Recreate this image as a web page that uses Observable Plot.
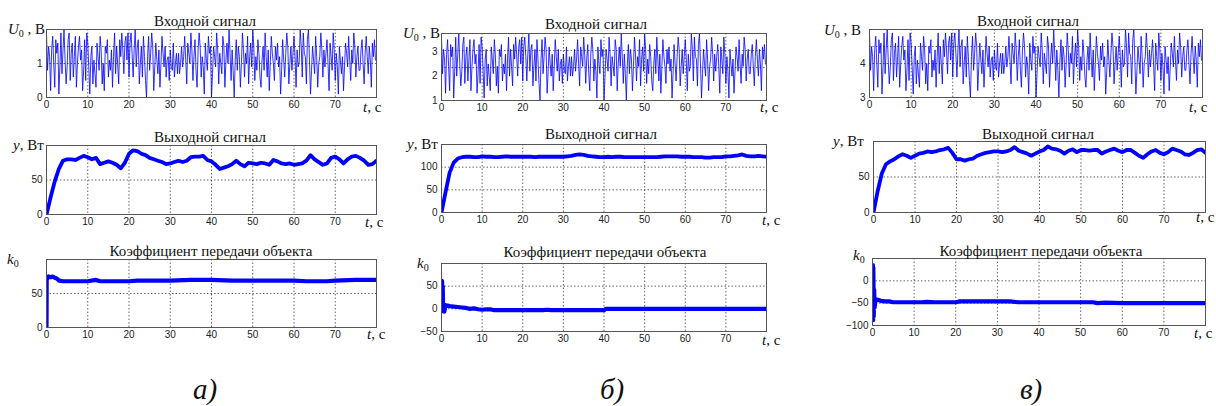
<!DOCTYPE html>
<html><head><meta charset="utf-8">
<script src="https://cdn.jsdelivr.net/npm/d3@7"></script>
<script src="https://cdn.jsdelivr.net/npm/@observablehq/plot@0.6"></script>
<style>
body{margin:0;background:#fff;}
#wrap{position:relative;width:1216px;height:406px;overflow:hidden;background:#fff;}
#wrap svg{position:absolute;}
#wrap svg.lbl text{font-family:"Liberation Serif","Times New Roman",serif;}
</style></head><body><div id="wrap"></div>
<script>
// ---------- data ----------
const tTicks = [0,10,20,30,40,50,60,70];
const inputStep = 0.25;

const inputA = [1.9,0.8,1.5,1.2,0.2,1.4,1.8,1.0,0.3,1.7,1.3,1.6,0.1,0.9,1.9,0.7,
1.4,2.0,1.1,0.4,0.9,1.7,1.9,0.5,1.3,1.6,0.6,1.2,1.8,0.3,1.0,1.5,
1.8,1.1,1.4,0.2,0.8,1.7,0.5,1.9,1.6,0.9,0.1,1.2,1.5,0.4,1.1,0.7,
0.3,1.6,1.2,0.8,1.8,1.4,0.4,1.0,0.2,1.5,1.3,1.7,0.6,1.1,0.8,1.4,
0.3,1.2,1.9,0.7,1.5,1.0,0.4,1.7,1.2,1.9,1.4,0.7,1.6,1.8,1.1,1.9,
0.6,1.6,1.9,1.3,0.6,1.4,2.0,0.9,1.5,1.7,0.4,1.0,1.5,0.6,1.8,1.2,
0.5,0.0,1.2,1.8,0.8,1.3,1.9,1.5,0.2,0.9,1.6,1.1,0.7,1.4,0.3,1.0,
1.8,1.3,0.9,1.5,0.6,1.1,1.2,0.5,1.4,0.9,0.8,1.6,0.6,1.0,1.3,0.7,
1.3,0.7,1.0,1.5,0.9,1.2,1.8,1.1,0.4,1.6,1.3,1.0,1.9,1.4,0.5,1.2,
1.7,0.8,0.3,1.4,1.9,1.5,0.6,1.2,0.9,0.1,1.6,1.1,0.8,1.8,1.3,1.5,
0.0,0.7,1.5,1.2,0.9,1.9,1.4,0.4,1.3,1.0,0.7,1.8,1.5,0.3,1.1,1.6,
1.0,2.0,1.3,0.5,1.4,0.8,0.0,1.1,1.7,0.8,1.5,1.2,0.3,1.0,1.9,1.4,
0.6,1.3,1.0,1.8,0.4,1.2,1.6,0.9,2.0,1.5,0.5,1.2,0.8,1.7,1.3,0.6,
0.3,1.1,1.5,0.8,1.9,1.2,0.6,1.4,0.2,1.0,1.8,1.3,1.0,0.5,1.5,1.1,
1.6,0.9,1.2,0.1,0.8,1.7,1.1,0.6,1.3,1.9,1.5,0.4,1.0,1.5,0.8,1.3,
1.8,1.2,0.3,1.4,0.9,1.0,2.0,1.5,0.6,1.9,1.3,1.2,0.4,1.7,2.0,1.1,
0.1,0.8,1.5,1.1,0.7,1.8,1.2,0.3,1.0,1.2,1.9,1.4,0.6,1.4,0.9,1.3,
1.7,1.0,0.2,1.6,1.2,0.8,1.9,1.4,0.5,1.3,0.9,0.1,1.5,1.1,0.7,1.2,
0.2,0.9,1.6,1.3,0.9,1.8,1.1,0.5,1.4,1.0,1.9,1.5,0.6,1.2,1.5,0.8,
0.8,1.4,1.7,1.0,0.4,1.3,1.8,1.2,0.7,1.5,1.1,0.3,1.6,1.2,1.7,1.1];

const inputB = [3.6,2.1,3.1,2.7,1.3,2.9,3.5,2.4,1.4,3.3,2.8,3.2,1.1,2.2,3.6,2.0,
2.9,3.75,2.5,1.6,2.2,3.3,3.6,1.7,2.8,3.2,1.8,2.7,3.5,1.4,2.4,3.1,
3.5,2.5,2.9,1.3,2.1,3.3,1.7,3.6,3.2,2.2,1.1,2.7,3.1,1.6,2.5,2.0,
1.4,3.2,2.7,2.1,3.5,2.9,1.6,2.4,1.3,3.1,2.8,3.3,1.8,2.5,2.1,2.9,
1.4,2.7,3.6,2.0,3.1,2.4,1.6,3.3,2.7,3.6,2.9,2.0,3.2,3.5,2.5,3.6,
1.8,3.2,3.6,2.8,1.8,2.9,3.75,2.2,3.1,3.3,1.6,2.4,3.1,1.8,3.5,2.7,
1.7,1.0,2.7,3.5,2.1,2.8,3.6,3.1,1.3,2.2,3.2,2.5,2.0,2.9,1.4,2.4,
3.5,2.8,2.2,3.1,1.8,2.5,2.7,1.7,2.9,2.2,2.1,3.2,1.8,2.4,2.8,2.0,
2.8,2.0,2.4,3.1,2.2,2.7,3.5,2.5,1.6,3.2,2.8,2.4,3.6,2.9,1.7,2.7,
3.3,2.1,1.4,2.9,3.6,3.1,1.8,2.7,2.2,1.1,3.2,2.5,2.1,3.5,2.8,3.1,
1.0,2.0,3.1,2.7,2.2,3.6,2.9,1.6,2.8,2.4,2.0,3.5,3.1,1.4,2.5,3.2,
2.4,3.75,2.8,1.7,2.9,2.1,1.0,2.5,3.3,2.1,3.1,2.7,1.4,2.4,3.6,2.9,
1.8,2.8,2.4,3.5,1.6,2.7,3.2,2.2,3.75,3.1,1.7,2.7,2.1,3.3,2.8,1.8,
1.4,2.5,3.1,2.1,3.6,2.7,1.8,2.9,1.3,2.4,3.5,2.8,2.4,1.7,3.1,2.5,
3.2,2.2,2.7,1.1,2.1,3.3,2.5,1.8,2.8,3.6,3.1,1.6,2.4,3.1,2.1,2.8,
3.5,2.7,1.4,2.9,2.2,2.4,3.75,3.1,1.8,3.6,2.8,2.7,1.6,3.3,3.75,2.5,
1.1,2.1,3.1,2.5,2.0,3.5,2.7,1.4,2.4,2.7,3.6,2.9,1.8,2.9,2.2,2.8,
3.3,2.4,1.3,3.2,2.7,2.1,3.6,2.9,1.7,2.8,2.2,1.1,3.1,2.5,2.0,2.7,
1.3,2.2,3.2,2.8,2.2,3.5,2.5,1.7,2.9,2.4,3.6,3.1,1.8,2.7,3.1,2.1,
2.1,2.9,3.3,2.4,1.6,2.8,3.5,2.7,2.0,3.1,2.5,1.4,3.2,2.7,3.3,2.5];

const inputC = [4.9,3.8,4.5,4.2,3.2,4.4,4.8,4.0,3.3,4.7,4.3,4.6,3.1,3.9,4.9,3.7,
4.4,5.0,4.1,3.4,3.9,4.7,4.9,3.5,4.3,4.6,3.6,4.2,4.8,3.3,4.0,4.5,
4.8,4.1,4.4,3.2,3.8,4.7,3.5,4.9,4.6,3.9,3.1,4.2,4.5,3.4,4.1,3.7,
3.3,4.6,4.2,3.8,4.8,4.4,3.4,4.0,3.2,4.5,4.3,4.7,3.6,4.1,3.8,4.4,
3.3,4.2,4.9,3.7,4.5,4.0,3.4,4.7,4.2,4.9,4.4,3.7,4.6,4.8,4.1,4.9,
3.6,4.6,4.9,4.3,3.6,4.4,5.0,3.9,4.5,4.7,3.4,4.0,4.5,3.6,4.8,4.2,
3.5,3.0,4.2,4.8,3.8,4.3,4.9,4.5,3.2,3.9,4.6,4.1,3.7,4.4,3.3,4.0,
4.8,4.3,3.9,4.5,3.6,4.1,4.2,3.5,4.4,3.9,3.8,4.6,3.6,4.0,4.3,3.7,
4.3,3.7,4.0,4.5,3.9,4.2,4.8,4.1,3.4,4.6,4.3,4.0,4.9,4.4,3.5,4.2,
4.7,3.8,3.3,4.4,4.9,4.5,3.6,4.2,3.9,3.1,4.6,4.1,3.8,4.8,4.3,4.5,
3.0,3.7,4.5,4.2,3.9,4.9,4.4,3.4,4.3,4.0,3.7,4.8,4.5,3.3,4.1,4.6,
4.0,5.0,4.3,3.5,4.4,3.8,3.0,4.1,4.7,3.8,4.5,4.2,3.3,4.0,4.9,4.4,
3.6,4.3,4.0,4.8,3.4,4.2,4.6,3.9,5.0,4.5,3.5,4.2,3.8,4.7,4.3,3.6,
3.3,4.1,4.5,3.8,4.9,4.2,3.6,4.4,3.2,4.0,4.8,4.3,4.0,3.5,4.5,4.1,
4.6,3.9,4.2,3.1,3.8,4.7,4.1,3.6,4.3,4.9,4.5,3.4,4.0,4.5,3.8,4.3,
4.8,4.2,3.3,4.4,3.9,4.0,5.0,4.5,3.6,4.9,4.3,4.2,3.4,4.7,5.0,4.1,
3.1,3.8,4.5,4.1,3.7,4.8,4.2,3.3,4.0,4.2,4.9,4.4,3.6,4.4,3.9,4.3,
4.7,4.0,3.2,4.6,4.2,3.8,4.9,4.4,3.5,4.3,3.9,3.1,4.5,4.1,3.7,4.2,
3.2,3.9,4.6,4.3,3.9,4.8,4.1,3.5,4.4,4.0,4.9,4.5,3.6,4.2,4.5,3.8,
3.8,4.4,4.7,4.0,3.4,4.3,4.8,4.2,3.7,4.5,4.1,3.3,4.6,4.2,4.7,4.1];

// output signals, one value per second, t = 0..80
const outA = [0,25,48,66,78,80,80,79,82,85,83,80,82,73,75,77,75,72,67,75,
88,93,92,88,86,82,80,78,76,73,74,76,78,76,78,83,84,84,85,79,
77,72,66,68,70,73,78,73,70,75,74,73,75,74,72,79,77,74,73,74,
72,73,74,78,86,80,76,72,74,82,84,80,74,80,84,85,82,78,72,73,78];
const outB = [0,45,88,110,119,122,123,123,122,122,124,123,123,122,122,123,124,123,123,123,
123,123,123,122,123,123,123,123,123,123,123,124,125,127,128,127,125,124,123,122,
122,123,122,123,123,122,122,122,122,122,122,122,122,122,123,124,124,124,124,123,
123,123,122,122,122,121,121,122,122,122,124,124,125,126,128,125,124,124,125,124,123];
const outC = [0,30,55,68,72,75,79,82,80,77,80,83,84,86,85,86,88,89,91,84,
75,75,73,75,76,80,82,84,85,86,86,85,86,88,92,87,85,83,80,83,
86,88,93,90,89,87,83,87,89,85,88,88,87,88,88,83,86,88,90,87,
85,88,88,84,80,77,82,86,88,84,82,85,90,88,86,82,81,84,88,89,84];

// object gain k0 (irregular sample times)
const kA_t = [0,0.05,0.2,0.5,1,1.5,2,2.5,3,4,6,8,10,12,13,15,20,22,25,30,35,40,45,50,55,60,63,65,68,70,75,80];
const kA   = [0,74,72,75,74,75,73,72,69,68,68,68,68,70,68,68,68,69,69,69,70,70,69,69,69,69,68,68,68,69,70,70];
const kB_t = [0,0.1,0.15,0.2,0.25,0.3,0.4,0.5,0.7,1,1.5,2,3,4,5,6,7,8,9,10,11,12,13,15,20,25,26,27,30,35,40,40.5,41,50,60,70,80];
const kB   = [0,62,60,30,-5,50,-3,10,-6,8,7,6,5,4,3,2,0,1,-1,-2,-1,-1,-3,-3,-3,-3,-2,-3,-3,-3,-3,0,0,0,0,0,0];
const kC_t = [0,0.1,0.15,0.2,0.3,0.4,0.5,0.7,1,1.5,2,3,4,5,8,12,13,15,20,21,25,30,33,35,40,45,50,53,54,56,60,70,80];
const kC   = [35,35,-88,30,-80,-20,-60,-45,-42,-43,-45,-46,-46,-48,-48,-48,-47,-48,-48,-46,-46,-46,-46,-48,-48,-48,-48,-48,-50,-49,-50,-50,-50];

const yTicksIn = [[0,1],[1,2,3],[3,4]];
const yGridIn  = [[1,1.5],[2.35,3.05],[4,4.5]];
const titles = ["Входной сигнал","Выходной сигнал","Коэффициент передачи объекта"];
const captions = ["а)","б)","в)"];

// ---------- layout ----------
const wrap = document.getElementById("wrap");
const ser = (ts, vs) => vs.map((v,i) => ({t: ts[i], v}));
const inT = inputA.map((_, i) => i * inputStep);
const outT = outA.map((_, i) => i);

function panel(c){
  const ml = 45, mr = 45, mt = 30, mb = 25;
  const w = c.R - c.L, h = c.B - c.T;
  const p = Plot.plot({
    width: w + ml + mr, height: h + mt + mb,
    marginLeft: ml, marginRight: mr, marginTop: mt, marginBottom: mb,
    style: {background: "transparent", fontFamily: "'Liberation Sans', Arial, sans-serif", fontSize: "10px", color: "#222", overflow: "visible"},
    x: {domain: [0, 80]},
    y: {domain: c.yd},
    marks: [
      Plot.gridX(tTicks.slice(1), {stroke: "#000", strokeOpacity: 0.75, strokeWidth: 0.8, strokeDasharray: "1.5,2"}),
      Plot.gridY(c.grid, {stroke: "#000", strokeOpacity: 0.75, strokeWidth: 0.8, strokeDasharray: "1.5,2"}),
      Plot.line(c.data, {x: "t", y: "v", stroke: "#0000ff", strokeWidth: c.sw, strokeOpacity: c.op ?? 1, clip: true, curve: "linear"}),
      Plot.frame({stroke: "#555", strokeWidth: 1}),
      Plot.axisX(tTicks, {tickSize: 0, tickPadding: 3, label: null}),
      Plot.axisY(c.ticks, {tickSize: 0, tickPadding: 4, label: null})
    ]
  });
  p.style.left = (c.L - ml) + "px";
  p.style.top = (c.T - mt) + "px";
  wrap.appendChild(p);
}

const geo = [
  [{L:46,T:29,R:376,B:97},{L:441,T:33,R:766,B:100},{L:869,T:29,R:1202,B:97}],
  [{L:46,T:145,R:376,B:214},{L:441,T:144,R:766,B:212},{L:873,T:141,R:1205,B:212}],
  [{L:46,T:259,R:376,B:327},{L:441,T:263,R:766,B:331},{L:872,T:258,R:1205,B:325}]
];
const inputs = [inputA, inputB, inputC];
const inDom = [[0,2],[1,3.75],[3,5]];
const outs = [outA, outB, outC];
const outDom = [[0,100],[0,150],[0,100]];
const outTicks = [[0,50],[0,50,100],[0,50]];
const outGrid = [[50],[50,100],[50]];
const ks = [ser(kA_t,kA), ser(kB_t,kB), ser(kC_t,kC)];
const kDom = [[0,100],[-50,100],[-100,50]];
const kTicks = [[0,50],[-50,0,50],[-100,-50,0]];
const kGrid = [[50],[0,50],[-50,0]];

for (let j = 0; j < 3; j++) {
  panel({...geo[0][j], yd: inDom[j], ticks: yTicksIn[j], grid: yGridIn[j], data: ser(inT, inputs[j]), sw: 1, op: 0.8});
  panel({...geo[1][j], yd: outDom[j], ticks: outTicks[j], grid: outGrid[j], data: ser(outT, outs[j]), sw: 3.8});
  panel({...geo[2][j], yd: kDom[j], ticks: kTicks[j], grid: kGrid[j], data: ks[j], sw: 4.2});
}

// ---------- text overlay ----------
const svg = d3.select(wrap).append("svg").attr("class","lbl").attr("width",1216).attr("height",406)
  .style("left","0px").style("top","0px").style("pointer-events","none");
const serif = "'Liberation Serif','Times New Roman',serif";

const titlePos = [
  [[205,26],[596,29],[1028,26]],
  [[210,142],[601,139],[1038,139]],
  [[211,256],[605,257],[1041,256]]
];
titlePos.forEach((row, r) => row.forEach(([x,y]) => {
  svg.append("text").attr("x",x).attr("y",y).attr("text-anchor","middle")
    .style("font-family",serif).style("font-size","15px").style("fill","#111").text(titles[r]);
}));

const yLab = [
  [[8,34],[403,38],[824,35]],
  [[13,150],[407,149],[833,146]],
  [[7,264],[417,268],[853,260]]
];
yLab.forEach((row, r) => row.forEach(([x,y]) => {
  const t = svg.append("text").attr("x",x).attr("y",y)
    .style("font-family",serif).style("font-size","15px").style("fill","#111");
  if (r === 0) {
    t.append("tspan").style("font-style","italic").text("U");
    t.append("tspan").style("font-size","10px").attr("dy",3).text("0");
    t.append("tspan").attr("dy",-3).text(" , В");
  } else if (r === 1) {
    t.append("tspan").style("font-style","italic").text("y");
    t.append("tspan").text(", Вт");
  } else {
    t.append("tspan").style("font-style","italic").text("k");
    t.append("tspan").style("font-size","10px").attr("dy",3).text("0");
  }
}));

const tLab = [
  [[363,112],[760,112],[1189,112]],
  [[365,227],[762,225],[1196,222]],
  [[367,339],[762,345],[1194,338]]
];
tLab.forEach(row => row.forEach(([x,y]) => {
  const t = svg.append("text").attr("x",x).attr("y",y)
    .style("font-family",serif).style("font-size","15px").style("fill","#111");
  t.append("tspan").style("font-style","italic").text("t");
  t.append("tspan").text(", с");
}));

[[193,399],[600,399],[1020,399]].forEach(([x,y], i) => {
  svg.append("text").attr("x",x).attr("y",y)
    .style("font-family",serif).style("font-size","29px").style("font-style","italic").style("fill","#111")
    .text(captions[i]);
});
</script>
</body></html>
